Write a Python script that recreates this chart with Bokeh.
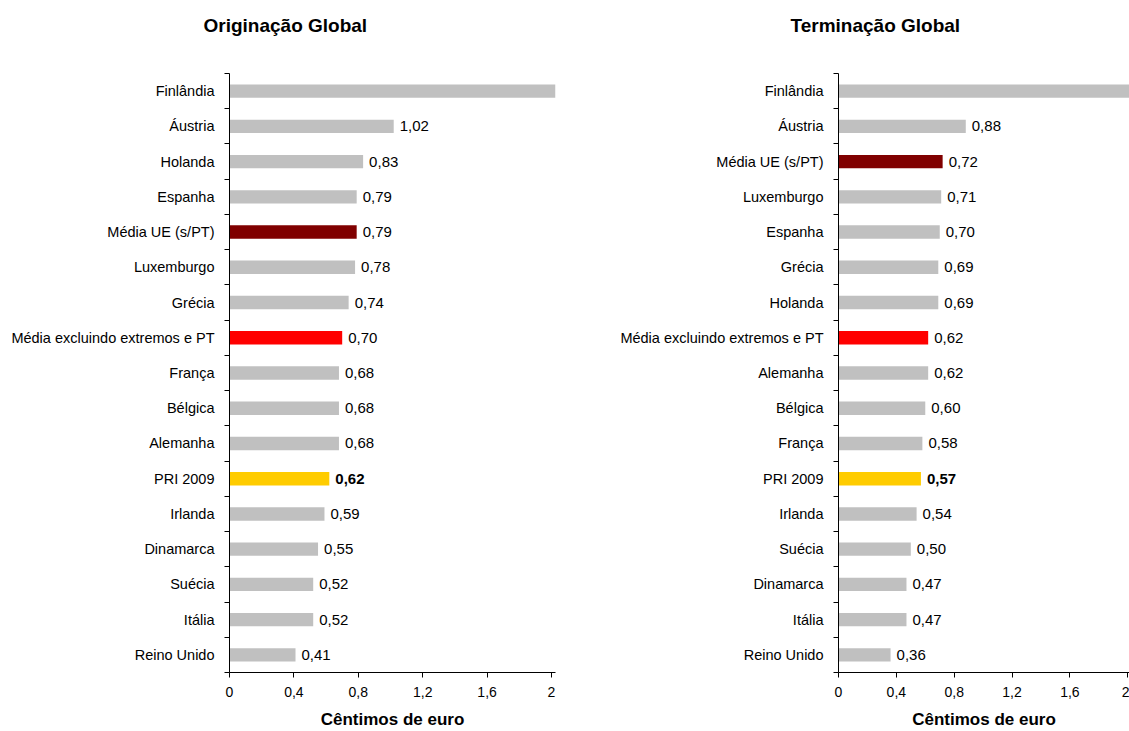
from bokeh.plotting import figure
from bokeh.layouts import row
from bokeh.models import ColumnDataSource, FixedTicker
from bokeh.embed import file_html
from bokeh.resources import INLINE

# ---- data (top to bottom as shown) ----
orig_cats = ["Finlândia", "Áustria", "Holanda", "Espanha", "Média UE (s/PT)", "Luxemburgo",
             "Grécia", "Média excluindo extremos e PT", "França", "Bélgica", "Alemanha",
             "PRI 2009", "Irlanda", "Dinamarca", "Suécia", "Itália", "Reino Unido"]
orig_vals = [2.10, 1.02, 0.83, 0.79, 0.79, 0.78, 0.74, 0.70, 0.68, 0.68, 0.68,
             0.62, 0.59, 0.55, 0.52, 0.52, 0.41]

term_cats = ["Finlândia", "Áustria", "Média UE (s/PT)", "Luxemburgo", "Espanha", "Grécia",
             "Holanda", "Média excluindo extremos e PT", "Alemanha", "Bélgica", "França",
             "PRI 2009", "Irlanda", "Suécia", "Dinamarca", "Itália", "Reino Unido"]
term_vals = [2.10, 0.88, 0.72, 0.71, 0.70, 0.69, 0.69, 0.62, 0.62, 0.60, 0.58,
             0.57, 0.54, 0.50, 0.47, 0.47, 0.36]

x_ticks = [0, 0.4, 0.8, 1.2, 1.6, 2]
x_tick_labels = ["0", "0,4", "0,8", "1,2", "1,6", "2"]

special_colors = {"Média UE (s/PT)": "#800000",
                  "Média excluindo extremos e PT": "#FF0000",
                  "PRI 2009": "#FFCC00"}
base_color = "#C0C0C0"
bold_cat = "PRI 2009"
clipped_cat = "Finlândia"

FONT = "Liberation Sans"


def make_fig(title, cats, vals, width, height, b_left, b_top, b_bottom, b_right,
             x_end, title_offset, title_standoff, tick_standoff, label_standoff):
    n = len(cats)
    ys = [n - 1 - i for i in range(n)]
    colors = [special_colors.get(c, base_color) for c in cats]
    labels = ["" if c == clipped_cat else f"{v:.2f}".replace(".", ",") for c, v in zip(cats, vals)]
    styles = ["bold" if c == bold_cat else "normal" for c in cats]
    src = ColumnDataSource(dict(y=ys, v=vals, color=colors, lbl=labels, style=styles))

    p = figure(width=width, height=height, x_range=(0, x_end), y_range=(-0.5, n - 0.5),
               output_backend="svg", toolbar_location=None,
               min_border_left=b_left, min_border_top=b_top,
               min_border_bottom=b_bottom, min_border_right=b_right)
    p.outline_line_color = None
    p.xgrid.visible = False
    p.ygrid.visible = False

    # an empty second line lifts the title well above the plot area
    p.title.text = title + "\n "
    p.title.text_font = FONT
    p.title.text_font_size = "19px"
    p.title.text_font_style = "bold"
    p.title.text_color = "black"
    p.title.text_line_height = 1.5
    p.title.align = "left"
    p.title.offset = title_offset
    p.title.standoff = title_standoff

    p.hbar(y="y", right="v", left=0, height=0.38, fill_color="color", line_color=None, source=src)
    p.text(x="v", y="y", text="lbl", x_offset=6, text_baseline="middle", text_align="left",
           text_font={"value": FONT}, text_font_size="15px",
           text_font_style="style", text_color="black", source=src)

    # y axis: category labels at centres, small ticks at boundaries
    yax = p.yaxis[0]
    yax.ticker = FixedTicker(ticks=ys, minor_ticks=[k - 0.5 for k in range(n + 1)])
    yax.major_label_overrides = {y: c for y, c in zip(ys, cats)}
    yax.major_tick_out = 0
    yax.major_tick_in = 0
    yax.minor_tick_out = 5
    yax.minor_tick_in = 0
    yax.minor_tick_line_color = "black"
    yax.axis_line_color = "black"
    yax.major_label_text_font = FONT
    yax.major_label_text_font_size = "14.5px"
    yax.major_label_text_color = "black"
    yax.major_label_standoff = 10

    xax = p.xaxis[0]
    xax.ticker = FixedTicker(ticks=x_ticks, minor_ticks=[])
    xax.major_label_overrides = {t: l for t, l in zip(x_ticks, x_tick_labels)}
    xax.major_tick_out = 5
    xax.major_tick_in = 0
    xax.axis_line_color = "black"
    xax.major_label_text_font = FONT
    xax.major_label_text_font_size = "14px"
    xax.major_label_text_color = "black"
    xax.major_label_standoff = tick_standoff
    xax.axis_label = "Cêntimos de euro"
    xax.axis_label_text_font = FONT
    xax.axis_label_text_font_size = "17px"
    xax.axis_label_text_font_style = "bold"
    xax.axis_label_text_color = "black"
    xax.axis_label_standoff = label_standoff
    return p


left = make_fig("Originação Global", orig_cats, orig_vals, width=600, height=731,
                b_left=229, b_top=73, b_bottom=57, b_right=45, x_end=2.025,
                title_offset=-26, title_standoff=12, tick_standoff=9, label_standoff=10)
right = make_fig("Terminação Global", term_cats, term_vals, width=529, height=731,
                 b_left=238, b_top=73, b_bottom=57, b_right=0, x_end=2.012,
                 title_offset=-48, title_standoff=12, tick_standoff=9, label_standoff=10)

layout = row(left, right)
open("out.html", "w").write(file_html(layout, INLINE))
